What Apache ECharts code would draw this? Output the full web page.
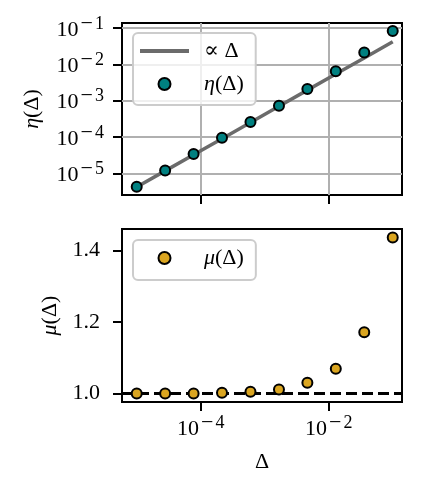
<!DOCTYPE html>
<html>
<head>
<meta charset="utf-8">
<script src="https://cdn.jsdelivr.net/npm/echarts@6/dist/echarts.min.js"></script>
<style>
  html, body { margin: 0; padding: 0; background: #fff; }
  #chart { width: 422px; height: 492px; }
</style>
</head>
<body>
<div id="chart"></div>
<script>
// Δ values (shared x axis)
const deltas = [1.0e-5, 2.78e-5, 7.74e-5, 2.15e-4, 5.99e-4, 1.67e-3, 4.64e-3, 1.29e-2, 3.59e-2, 1.0e-1]
// η(Δ) markers
const etaValues = [4.3e-6, 1.2e-5, 3.4e-5, 9.5e-5, 2.6e-4, 7.3e-4, 2.1e-3, 6.4e-3, 2.1e-2, 8.3e-2]
// reference line ∝ Δ
const propValues = [4.2e-6, 1.17e-5, 3.25e-5, 9.0e-5, 2.5e-4, 7.0e-4, 1.95e-3, 5.4e-3, 1.5e-2, 4.2e-2]
// μ(Δ) markers, bottom panel
const muValues = [1.000, 1.000, 1.000, 1.002, 1.005, 1.011, 1.030, 1.069, 1.171, 1.436]
const muRef = 1.0

// tick positions
const xTicks = [1e-4, 1e-2]
const etaTicks = [1e-5, 1e-4, 1e-3, 1e-2, 1e-1]
const muTicks = [1.0, 1.2, 1.4]

const FONT = '"Liberation Serif", "DejaVu Serif", serif'
const TEAL = '#008080'
const GOLD = '#daa520'
const GREY = '#6b6b6b'
const CLEAR = 'rgba(0,0,0,0)'

const rich = {
  b: { fontFamily: FONT, fontSize: 22, color: '#000', verticalAlign: 'bottom', lineHeight: 26 },
  m: { fontFamily: FONT, fontSize: 22, color: '#000', verticalAlign: 'bottom', lineHeight: 26, padding: [0, 2, 6, 2] },
  s: { fontFamily: FONT, fontSize: 18, color: '#000', verticalAlign: 'bottom', lineHeight: 26, padding: [0, 0, 8, 0] },
  i: { fontFamily: FONT, fontSize: 22, color: '#000', fontStyle: 'italic' },
  n: { fontFamily: FONT, fontSize: 22, color: '#000' }
}

// legend handles are drawn as rich-text boxes so they sit like matplotlib's
const legendRich = {
  ln: { width: 49, height: 4, color: CLEAR, fontSize: 4, backgroundColor: GREY, verticalAlign: 'middle', lineHeight: 24 },
  pl: { width: 19.5, color: CLEAR, fontSize: 12, verticalAlign: 'middle', lineHeight: 24 },
  pr: { width: 34.5, color: CLEAR, fontSize: 12, verticalAlign: 'middle', lineHeight: 24 },
  gp: { width: 15, color: CLEAR, fontSize: 12, verticalAlign: 'middle', lineHeight: 24 },
  ct: { width: 10, height: 10, color: CLEAR, fontSize: 8, borderRadius: 5, backgroundColor: TEAL, borderColor: '#000', borderWidth: 2, verticalAlign: 'middle' },
  cg: { width: 10, height: 10, color: CLEAR, fontSize: 8, borderRadius: 5, backgroundColor: GOLD, borderColor: '#000', borderWidth: 2, verticalAlign: 'middle' },
  i: { fontFamily: FONT, fontSize: 22, color: '#000', fontStyle: 'italic', verticalAlign: 'middle', lineHeight: 24 },
  n: { fontFamily: FONT, fontSize: 22, color: '#000', verticalAlign: 'middle', lineHeight: 24 }
}

// 10^k label with a raised exponent
const pow10 = v => {
  const e = Math.round(Math.log10(v))
  return e < 0 ? '{b|10}{m|−}{s|' + (-e) + '}' : '{b|10}{s|' + e + '}'
}

const legendText = {
  '∝ Δ': '{ln|.}{gp|.}{n|∝ Δ}',
  'η(Δ)': '{pl|.}{ct|.}{pr|.}{i|η}{n|(Δ)}',
  'μ(Δ)': '{pl|.}{cg|.}{pr|.}{i|μ}{n|(Δ)}'
}

const tickStyle = { show: true, length: 9, lineStyle: { color: '#000', width: 2 } }

const legendBase = {
  orient: 'vertical',
  left: 133,
  icon: 'none',
  itemWidth: 1,
  itemHeight: 13,
  itemGap: 9,
  borderColor: '#cccccc',
  borderWidth: 2,
  borderRadius: 5,
  backgroundColor: 'rgba(255,255,255,0.8)',
  formatter: name => legendText[name],
  textStyle: { fontFamily: FONT, fontSize: 22, lineHeight: 24, rich: legendRich }
}

const chart = echarts.init(document.getElementById('chart'))

chart.setOption({
  animation: false,
  backgroundColor: '#fff',
  grid: [
    { left: 122, right: 20, top: 23, height: 172, show: true, borderColor: '#000', borderWidth: 2 },
    { left: 122, right: 20, top: 229, height: 173, show: true, borderColor: '#000', borderWidth: 2 }
  ],
  xAxis: [
    {
      type: 'log', gridIndex: 0, min: 5.89e-6, max: 0.1396,
      axisLine: { show: false },
      axisTick: { ...tickStyle, customValues: xTicks },
      axisLabel: { show: false, customValues: xTicks },
      splitLine: { show: true, lineStyle: { color: '#b0b0b0', width: 2 } }
    },
    {
      type: 'log', gridIndex: 1, min: 5.89e-6, max: 0.1396,
      axisLine: { show: false },
      axisTick: { ...tickStyle, customValues: xTicks },
      axisLabel: { customValues: xTicks, formatter: pow10, margin: 12, rich: rich },
      splitLine: { show: false },
      name: 'Δ', nameLocation: 'middle', nameGap: 49,
      nameTextStyle: { fontFamily: FONT, fontSize: 22, color: '#000' }
    }
  ],
  yAxis: [
    {
      type: 'log', gridIndex: 0, min: 2.54e-6, max: 0.137,
      axisLine: { show: false },
      axisTick: { ...tickStyle, customValues: etaTicks },
      axisLabel: { customValues: etaTicks, formatter: pow10, margin: 18, rich: rich },
      splitLine: { show: true, lineStyle: { color: '#b0b0b0', width: 2 } },
      name: '{i|η}{n|(Δ)}', nameLocation: 'middle', nameGap: 79,
      nameTextStyle: { rich: rich }
    },
    {
      type: 'value', gridIndex: 1, min: 0.976, max: 1.46,
      axisLine: { show: false },
      axisTick: { ...tickStyle, customValues: muTicks },
      axisLabel: { customValues: muTicks, formatter: v => v.toFixed(1), margin: 22,
        fontFamily: FONT, fontSize: 22, color: '#000' },
      splitLine: { show: false },
      name: '{i|μ}{n|(Δ)}', nameLocation: 'middle', nameGap: 59,
      nameTextStyle: { rich: rich }
    }
  ],
  legend: [
    { ...legendBase, top: 33, padding: [6, 12, 9, 1], data: ['∝ Δ', 'η(Δ)'] },
    { ...legendBase, top: 240, padding: [6, 12, 10, 1], data: ['μ(Δ)'] }
  ],
  series: [
    {
      name: '∝ Δ', type: 'line', xAxisIndex: 0, yAxisIndex: 0,
      data: deltas.map((d, i) => [d, propValues[i]]),
      symbol: 'none', lineStyle: { color: GREY, width: 3.5 }, itemStyle: { color: GREY }
    },
    {
      name: 'η(Δ)', type: 'scatter', xAxisIndex: 0, yAxisIndex: 0,
      data: deltas.map((d, i) => [d, etaValues[i]]),
      symbolSize: 10,
      z: 3,
      itemStyle: { color: TEAL, borderColor: '#000', borderWidth: 2, opacity: 1 }
    },
    {
      name: 'μ(Δ)', type: 'scatter', xAxisIndex: 1, yAxisIndex: 1,
      data: deltas.map((d, i) => [d, muValues[i]]),
      symbolSize: 10,
      z: 3,
      itemStyle: { color: GOLD, borderColor: '#000', borderWidth: 2, opacity: 1 },
      markLine: {
        z: 1, silent: true, symbol: 'none', label: { show: false },
        lineStyle: { color: '#000', type: [11, 5], width: 3 },
        data: [{ yAxis: muRef }]
      }
    }
  ]
})
</script>
</body>
</html>
